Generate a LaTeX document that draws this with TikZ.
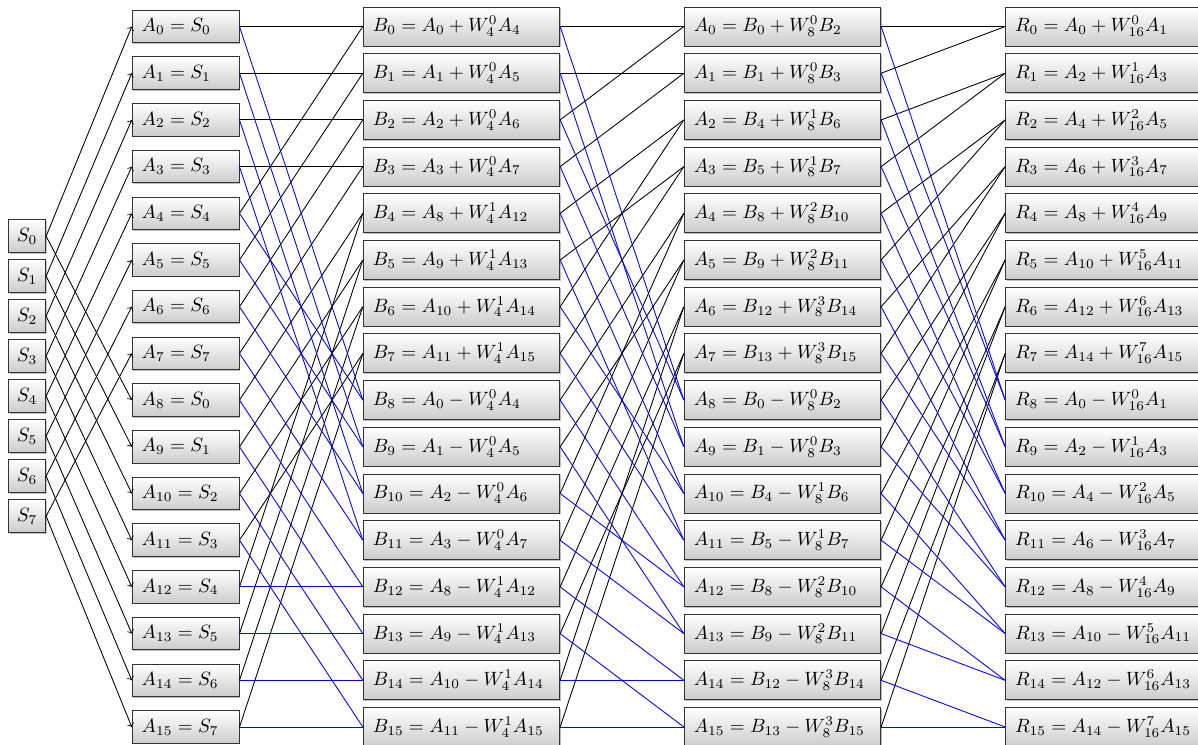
\documentclass[tikz,border=0pt]{standalone}
\usetikzlibrary{shadows}
\newcommand\lbx[2]{\makebox[#1][l]{#2}}
\begin{document}
\begin{tikzpicture}[x=0.52pt,y=-0.52pt,
  boxbase/.style={draw=black!80, line width=0.5pt, top color=white, bottom color=black!20, inner sep=0pt,
    drop shadow={shadow xshift=0.6pt, shadow yshift=-0.6pt, fill=black!25, opacity=1}},
  sbox/.style={boxbase, minimum width=19.4pt, minimum height=16.9pt},
  abox/.style={boxbase, minimum width=55.5pt, minimum height=16.9pt},
  wbox/.style={boxbase, minimum width=102.1pt, minimum height=20.3pt},
  blk/.style={draw=black, line width=0.45pt},
  blu/.style={draw=blue, line width=0.45pt},
  arr/.style={draw=black, line width=0.45pt, ->}]
\useasboundingbox (0,0) rectangle (1198,744);
% S column
\foreach \i in {0,...,7}
  \node[sbox] (S\i) at (27,{236.2+40*\i}) {$S_{\i}$};
% A column
\foreach \i in {0,...,15} {
  \pgfmathtruncatemacro\s{mod(\i,8)}
  \node[abox] (A\i) at (185.65,{26.5+46.7*\i}) {\lbx{45.7pt}{$A_{\i}=S_{\s}$}};
}
% B column
\foreach \k in {0,...,15} {
  \pgfmathtruncatemacro\j{mod(\k,8)}
  \pgfmathtruncatemacro\p{\j<4 ? \j : \j+4}
  \pgfmathtruncatemacro\q{\p+4}
  \pgfmathtruncatemacro\e{\j<4 ? 0 : 1}
  \ifnum\k<8 \def\op{+}\else\def\op{-}\fi
  \node[wbox] (B\k) at (461.5,{26.5+46.7*\k}) {\lbx{92.3pt}{$B_{\k}=A_{\p}\op W^{\e}_{4}A_{\q}$}};
}
% second A column
\foreach \k in {0,...,15} {
  \pgfmathtruncatemacro\j{mod(\k,8)}
  \pgfmathtruncatemacro\p{4*floor(\j/2)+mod(\j,2)}
  \pgfmathtruncatemacro\q{\p+2}
  \pgfmathtruncatemacro\e{floor(\j/2)}
  \ifnum\k<8 \def\op{+}\else\def\op{-}\fi
  \node[wbox] (C\k) at (782.5,{26.5+46.7*\k}) {\lbx{92.3pt}{$A_{\k}=B_{\p}\op W^{\e}_{8}B_{\q}$}};
}
% R column
\foreach \k in {0,...,15} {
  \pgfmathtruncatemacro\j{mod(\k,8)}
  \pgfmathtruncatemacro\p{2*\j}
  \pgfmathtruncatemacro\q{2*\j+1}
  \ifnum\k<8 \def\op{+}\else\def\op{-}\fi
  \node[wbox] (R\k) at (1103.85,{26.5+46.7*\k}) {\lbx{92.3pt}{$R_{\k}=A_{\p}\op W^{\j}_{16}A_{\q}$}};
}
% S -> A
\foreach \i in {0,...,7} {
  \pgfmathtruncatemacro\t{\i+8}
  \path[arr] (S\i.east) -- (A\i.west);
  \path[arr] (S\i.east) -- (A\t.west);
}
% black (sum) connectors
\foreach \j in {0,...,7} {
  \pgfmathtruncatemacro\p{\j<4 ? \j : \j+4}
  \pgfmathtruncatemacro\q{\p+4}
  \path[blk] (A\p.east) -- (B\j.west);
  \path[blk] (A\q.east) -- (B\j.west);
  \pgfmathtruncatemacro\pp{4*floor(\j/2)+mod(\j,2)}
  \pgfmathtruncatemacro\qq{\pp+2}
  \path[blk] (B\pp.east) -- (C\j.west);
  \path[blk] (B\qq.east) -- (C\j.west);
  \pgfmathtruncatemacro\ppp{2*\j}
  \pgfmathtruncatemacro\qqq{2*\j+1}
  \path[blk] (C\ppp.east) -- (R\j.west);
  \path[blk] (C\qqq.east) -- (R\j.west);
}
% blue (difference) connectors
\foreach \j in {0,...,7} {
  \pgfmathtruncatemacro\m{\j+8}
  \pgfmathtruncatemacro\p{\j<4 ? \j : \j+4}
  \pgfmathtruncatemacro\q{\p+4}
  \path[blu] (A\p.east) -- (B\m.west);
  \path[blu] (A\q.east) -- (B\m.west);
  \pgfmathtruncatemacro\pp{4*floor(\j/2)+mod(\j,2)}
  \pgfmathtruncatemacro\qq{\pp+2}
  \path[blu] (B\pp.east) -- (C\m.west);
  \path[blu] (B\qq.east) -- (C\m.west);
  \pgfmathtruncatemacro\ppp{2*\j}
  \pgfmathtruncatemacro\qqq{2*\j+1}
  \path[blu] (C\ppp.east) -- (R\m.west);
  \path[blu] (C\qqq.east) -- (R\m.west);
}
\end{tikzpicture}
\end{document}
